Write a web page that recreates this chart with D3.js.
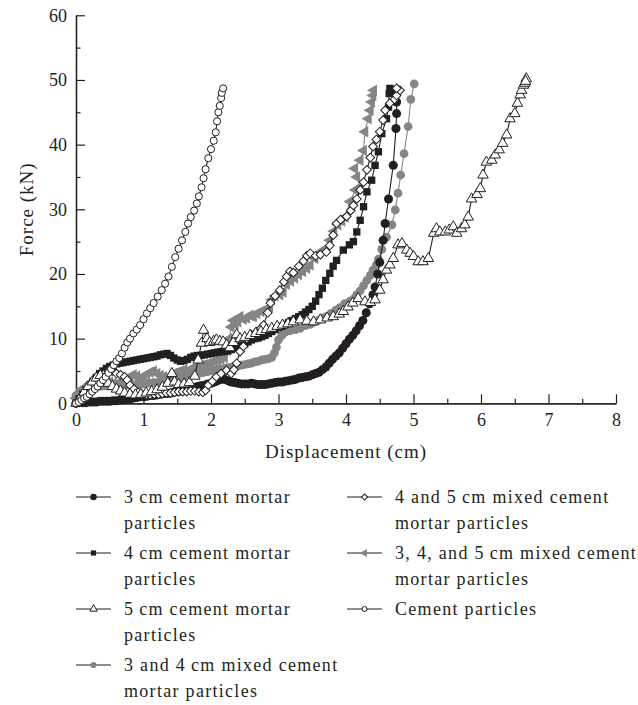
<!DOCTYPE html>
<html>
<head>
<meta charset="utf-8">
<script src="https://cdn.jsdelivr.net/npm/d3@7"></script>
<style>
  html, body { margin: 0; padding: 0; background: #fff; }
  svg { display: block; font-family: "Liberation Serif", "Times New Roman", serif; }
</style>
</head>
<body>
<svg id="chart" width="638" height="705"></svg>
<script>
// Axis ticks
const xTicks = [0, 1, 2, 3, 4, 5, 6, 7, 8];
const xMinorTicks = [0.5, 1.5, 2.5, 3.5, 4.5, 5.5, 6.5, 7.5];
const yTicks = [0, 10, 20, 30, 40, 50, 60];
const yMinorTicks = [5, 15, 25, 35, 45, 55];

// [displacement (cm), force (kN)]
const mortar3cm = [
  [0.00,0.0],[0.05,0.1],[0.10,0.1],[0.15,0.1],[0.20,0.2],[0.25,0.2],[0.30,0.2],[0.35,0.3],[0.40,0.3],[0.45,0.3],
  [0.50,0.3],[0.55,0.4],[0.60,0.4],[0.65,0.5],[0.70,0.6],[0.75,0.6],[0.80,0.7],[0.85,0.8],[0.90,0.9],[0.95,1.0],
  [1.00,1.0],[1.05,1.1],[1.10,1.2],[1.15,1.2],[1.20,1.3],[1.25,1.4],[1.30,1.5],[1.35,1.5],[1.40,1.6],[1.45,1.7],
  [1.50,1.8],[1.55,1.9],[1.60,2.0],[1.65,2.2],[1.70,2.3],[1.75,2.4],[1.80,2.6],[1.85,2.7],[1.90,2.8],[1.95,3.0],
  [2.00,3.1],[2.05,3.3],[2.10,3.5],[2.15,3.7],[2.20,3.7],[2.25,3.5],[2.30,3.3],[2.35,3.2],[2.40,3.1],[2.45,3.0],
  [2.50,3.0],[2.55,3.0],[2.60,3.1],[2.65,3.0],[2.70,2.9],[2.75,2.9],[2.80,2.9],[2.85,3.0],[2.90,3.1],[2.95,3.2],
  [3.00,3.3],[3.05,3.3],[3.10,3.4],[3.15,3.5],[3.20,3.6],[3.25,3.7],[3.30,3.9],[3.35,4.0],[3.40,4.1],[3.45,4.2],
  [3.50,4.4],[3.55,4.6],[3.60,4.8],[3.65,5.2],[3.70,5.6],[3.75,6.2],[3.80,6.8],[3.85,7.3],[3.90,7.8],[3.95,8.5],
  [4.00,9.2],[4.05,9.9],[4.10,10.5],[4.15,11.2],[4.20,12.0],[4.25,12.8],[4.30,14.0],[4.35,15.4],[4.40,16.8],[4.43,18.0],
  [4.47,20.0],[4.50,21.8],[4.55,25.2],[4.58,27.8],[4.63,31.6],[4.70,36.8],[4.74,42.5],[4.75,44.8],[4.75,46.6],[4.74,48.2]
];

const mortar4cm = [
  [0.00,0.0],[0.05,0.7],[0.10,1.4],[0.15,2.1],[0.20,2.8],[0.25,3.4],[0.30,4.0],[0.35,4.6],[0.40,5.0],[0.45,5.4],
  [0.50,5.7],[0.55,5.9],[0.60,6.1],[0.65,6.2],[0.70,6.3],[0.75,6.4],[0.80,6.5],[0.85,6.6],[0.90,6.7],[0.95,6.8],
  [1.00,6.9],[1.05,7.0],[1.10,7.1],[1.15,7.2],[1.20,7.3],[1.25,7.5],[1.30,7.6],[1.35,7.7],[1.40,7.4],[1.45,7.0],
  [1.50,6.7],[1.55,6.5],[1.60,6.6],[1.65,6.8],[1.70,7.1],[1.75,7.3],[1.80,7.4],[1.85,7.4],[1.90,7.5],[1.95,7.6],
  [2.00,7.7],[2.05,7.8],[2.10,7.9],[2.15,8.0],[2.20,8.0],[2.25,8.1],[2.30,8.3],[2.35,8.5],[2.40,8.7],[2.45,8.9],
  [2.50,9.2],[2.55,9.5],[2.60,9.8],[2.65,10.0],[2.70,10.1],[2.75,10.3],[2.80,10.5],[2.85,10.8],[2.90,11.1],[2.95,11.4],
  [3.00,11.7],[3.05,11.9],[3.10,12.2],[3.15,12.5],[3.20,12.8],[3.25,13.1],[3.30,13.4],[3.35,13.7],[3.40,14.1],[3.45,14.5],
  [3.50,15.0],[3.55,15.8],[3.60,16.8],[3.65,17.8],[3.70,19.0],[3.76,20.1],[3.81,21.2],[3.86,22.1],[3.96,23.7],[4.05,24.5],
  [4.11,25.0],[4.16,26.5],[4.21,28.3],[4.26,30.4],[4.31,32.7],[4.38,34.5],[4.43,36.8],[4.48,38.9],[4.53,41.7],[4.60,44.0],
  [4.63,45.8],[4.64,47.9],[4.65,48.7]
];

const mortar5cm = [
  [0.00,0.0],[0.06,0.8],[0.12,1.7],[0.18,2.6],[0.24,3.3],[0.30,3.9],[0.36,4.3],[0.42,3.8],[0.48,3.1],[0.54,2.6],
  [0.60,2.2],[0.66,1.9],[0.72,1.6],[0.80,1.4],[0.88,1.3],[0.96,1.4],[1.04,1.6],[1.12,1.8],[1.20,2.1],[1.28,2.5],
  [1.36,3.1],[1.42,4.6],[1.46,3.3],[1.52,2.9],[1.60,3.0],[1.68,3.2],[1.76,4.2],[1.81,6.7],[1.86,9.3],[1.89,11.3],
  [1.94,10.0],[1.98,9.4],[2.04,9.6],[2.08,9.8],[2.13,9.6],[2.18,9.5],[2.23,9.0],[2.28,8.6],[2.33,9.4],[2.38,10.6],
  [2.43,10.0],[2.50,10.2],[2.58,10.5],[2.66,10.8],[2.74,11.1],[2.82,11.4],[2.90,11.6],[2.98,11.9],[3.06,12.1],[3.14,12.3],
  [3.22,12.6],[3.32,12.9],[3.42,12.7],[3.52,12.6],[3.62,12.9],[3.72,13.2],[3.81,13.4],[3.90,13.8],[3.96,14.2],[4.03,14.9],
  [4.10,15.5],[4.18,16.2],[4.28,15.7],[4.36,15.6],[4.43,16.0],[4.50,17.5],[4.55,19.1],[4.60,20.6],[4.65,21.4],[4.70,22.4],
  [4.77,24.5],[4.83,24.7],[4.90,23.7],[4.95,23.2],[5.00,22.7],[5.07,21.9],[5.14,21.9],[5.22,22.4],[5.30,26.3],[5.34,27.0],
  [5.39,26.5],[5.47,26.5],[5.53,26.8],[5.59,27.3],[5.64,26.3],[5.71,27.0],[5.76,27.6],[5.81,28.8],[5.86,31.6],[5.94,32.3],
  [5.99,33.2],[6.03,35.3],[6.08,37.3],[6.16,37.6],[6.21,38.4],[6.27,39.2],[6.32,40.2],[6.38,41.5],[6.43,44.0],[6.50,44.8],
  [6.54,46.4],[6.58,47.7],[6.60,48.4],[6.63,49.2],[6.65,49.5],[6.67,50.2],[6.66,49.8]
];

const mixed34 = [
  [0.00,1.2],[0.05,1.8],[0.10,2.1],[0.15,2.3],[0.20,2.4],[0.25,2.5],[0.30,2.6],[0.35,2.6],[0.40,2.7],[0.45,2.7],
  [0.50,2.7],[0.55,2.8],[0.60,2.8],[0.65,2.8],[0.70,2.8],[0.75,2.8],[0.80,2.8],[0.85,2.9],[0.90,2.9],[0.95,3.0],
  [1.00,3.0],[1.05,3.1],[1.10,3.1],[1.15,3.2],[1.20,3.2],[1.25,3.3],[1.30,3.3],[1.35,3.4],[1.40,3.6],[1.45,3.8],
  [1.50,3.9],[1.55,4.0],[1.60,4.1],[1.65,4.2],[1.70,4.4],[1.75,4.5],[1.80,4.6],[1.85,4.7],[1.90,4.8],[1.95,4.9],
  [2.00,5.0],[2.05,5.1],[2.10,5.2],[2.15,5.3],[2.20,5.4],[2.25,5.5],[2.30,5.6],[2.35,5.7],[2.40,5.8],[2.45,5.9],
  [2.50,6.0],[2.55,6.1],[2.60,6.2],[2.65,6.4],[2.70,6.5],[2.75,6.7],[2.80,6.8],[2.85,6.9],[2.90,7.1],[2.94,7.8],
  [2.97,8.7],[3.00,9.8],[3.05,10.5],[3.10,11.0],[3.17,11.2],[3.25,11.4],[3.32,11.6],[3.40,12.0],[3.47,12.2],[3.52,12.5],
  [3.60,12.9],[3.66,13.2],[3.71,13.4],[3.78,13.9],[3.85,14.4],[3.91,14.8],[3.98,15.4],[4.06,15.8],[4.12,16.2],[4.16,16.8],
  [4.21,17.4],[4.26,18.2],[4.31,19.0],[4.36,19.8],[4.40,20.6],[4.45,21.4],[4.48,22.3],[4.53,23.8],[4.60,25.7],[4.68,27.6],
  [4.73,29.9],[4.77,32.5],[4.81,35.3],[4.86,38.6],[4.92,42.8],[4.96,47.0],[5.01,49.4]
];

const mixed45 = [
  [0.00,0.0],[0.05,0.5],[0.10,1.1],[0.15,1.7],[0.20,2.3],[0.25,2.9],[0.30,3.4],[0.36,4.1],[0.42,4.6],[0.48,5.0],
  [0.54,5.0],[0.60,4.6],[0.66,4.4],[0.72,4.1],[0.76,3.6],[0.80,2.8],[0.86,2.2],[0.92,1.7],[0.98,1.4],[1.04,1.3],
  [1.10,1.3],[1.16,1.4],[1.22,1.4],[1.28,1.5],[1.34,1.6],[1.40,1.6],[1.46,1.7],[1.52,1.8],[1.58,1.8],[1.64,1.8],
  [1.70,1.9],[1.76,1.9],[1.82,1.8],[1.88,1.7],[1.92,2.0],[1.96,2.8],[2.02,3.4],[2.08,4.1],[2.15,4.6],[2.23,5.1],
  [2.30,4.6],[2.34,5.2],[2.38,6.2],[2.43,8.0],[2.48,8.8],[2.53,10.0],[2.60,10.6],[2.68,11.1],[2.74,11.6],[2.78,12.1],
  [2.84,14.0],[2.88,15.5],[2.95,16.6],[3.02,17.5],[3.08,18.8],[3.12,19.6],[3.17,20.4],[3.22,20.2],[3.30,21.2],[3.37,22.0],
  [3.42,22.8],[3.47,23.2],[3.55,22.8],[3.62,23.0],[3.71,23.4],[3.76,24.4],[3.81,26.0],[3.86,27.8],[3.92,28.4],[4.01,28.9],
  [4.07,29.8],[4.11,30.6],[4.16,31.6],[4.21,33.0],[4.26,34.2],[4.31,36.1],[4.36,38.0],[4.40,39.7],[4.45,40.8],[4.50,42.0],
  [4.55,43.8],[4.58,45.3],[4.65,46.4],[4.72,47.0],[4.75,47.6],[4.80,48.4],[4.75,48.7]
];

const mixed345 = [
  [0.00,0.8],[0.05,1.6],[0.10,2.2],[0.15,2.6],[0.20,3.0],[0.25,3.3],[0.30,3.5],[0.35,3.7],[0.40,3.8],[0.45,3.6],
  [0.50,3.3],[0.55,3.1],[0.60,3.0],[0.65,3.2],[0.70,3.5],[0.75,3.8],[0.80,4.1],[0.85,4.4],[0.90,4.2],[0.95,3.9],
  [1.00,4.1],[1.05,4.5],[1.10,4.8],[1.15,5.0],[1.20,4.6],[1.25,4.3],[1.30,4.1],[1.35,4.0],[1.40,4.2],[1.45,4.6],
  [1.50,4.8],[1.55,5.0],[1.60,5.2],[1.65,5.0],[1.70,5.3],[1.75,5.5],[1.80,5.7],[1.85,5.8],[1.90,6.0],[1.95,6.1],
  [2.00,6.3],[2.05,6.5],[2.10,6.6],[2.15,6.8],[2.20,7.1],[2.24,8.2],[2.27,10.0],[2.30,11.8],[2.33,12.8],[2.36,12.2],
  [2.40,12.6],[2.43,13.4],[2.48,13.0],[2.53,13.2],[2.58,13.6],[2.63,13.4],[2.68,13.9],[2.74,14.2],[2.80,14.4],[2.87,14.9],
  [2.90,16.0],[2.95,16.6],[3.02,16.8],[3.07,17.2],[3.12,18.4],[3.18,18.9],[3.24,19.4],[3.30,19.9],[3.36,20.4],[3.42,20.9],
  [3.47,21.4],[3.54,22.4],[3.61,23.3],[3.68,23.8],[3.76,25.2],[3.82,26.6],[3.88,27.6],[3.94,28.2],[3.99,28.8],[4.06,31.2],
  [4.14,33.0],[4.21,33.4],[4.16,35.0],[4.13,36.3],[4.21,37.6],[4.26,39.1],[4.28,42.0],[4.33,44.0],[4.36,45.3],[4.38,46.6],
  [4.40,47.6],[4.41,48.4]
];

const cementOnly = [
  [0.00,0.0],[0.04,0.2],[0.08,0.5],[0.12,0.8],[0.16,1.0],[0.20,1.4],[0.24,1.8],[0.28,2.2],[0.32,2.6],[0.36,3.1],
  [0.40,3.6],[0.44,4.1],[0.48,4.7],[0.52,5.3],[0.56,5.9],[0.60,6.5],[0.64,7.0],[0.68,7.7],[0.72,8.6],[0.76,9.4],
  [0.80,10.0],[0.85,10.8],[0.90,11.4],[0.95,12.1],[1.00,13.0],[1.05,13.9],[1.10,14.7],[1.15,15.5],[1.21,16.5],[1.27,17.5],
  [1.32,18.5],[1.37,19.6],[1.42,21.1],[1.47,22.6],[1.52,23.9],[1.57,25.2],[1.62,26.5],[1.66,27.8],[1.70,28.8],[1.75,29.8],
  [1.79,30.9],[1.82,32.0],[1.86,33.4],[1.89,34.8],[1.92,36.2],[1.96,37.9],[2.00,39.3],[2.04,40.6],[2.07,41.9],[2.09,43.6],
  [2.11,45.0],[2.13,46.0],[2.15,47.2],[2.16,48.0],[2.18,48.7]
];

// Legend labels (each entry may wrap onto two lines)
const labels3cm = ["3\u2009cm cement mortar", "particles"];
const labels4cm = ["4\u2009cm cement mortar", "particles"];
const labels5cm = ["5\u2009cm cement mortar", "particles"];
const labels34 = ["3 and 4\u2009cm mixed cement", "mortar particles"];
const labels45 = ["4 and 5\u2009cm mixed cement", "mortar particles"];
const labels345 = ["3, 4, and 5\u2009cm mixed cement", "mortar particles"];
const labelsCement = ["Cement particles"];

const INK = "#231f20";
const GREY = "#858585";

const svg = d3.select("#chart");
const x = d3.scaleLinear().domain([0, 8]).range([76, 616]);
const y = d3.scaleLinear().domain([0, 60]).range([403.3, 15.3]);

// Marker definitions
const circle = { type: d3.symbolCircle, rot: 0 };
const square = { type: d3.symbolSquare, rot: 0 };
const triangle = { type: d3.symbolTriangle, rot: 0 };
const diamond = { type: d3.symbolSquare, rot: 45 };
const leftTri = { type: d3.symbolTriangle, rot: -90 };

const series = [
  { data: mixed34, labels: labels34, mark: circle, size: 60, fill: GREY, stroke: "none", line: GREY },
  { data: mixed345, labels: labels345, mark: leftTri, size: 58, fill: GREY, stroke: "none", line: GREY },
  { data: mortar3cm, labels: labels3cm, mark: circle, size: 64, fill: INK, stroke: "none", line: INK },
  { data: mortar4cm, labels: labels4cm, mark: square, size: 54, fill: INK, stroke: "none", line: INK },
  { data: mixed45, labels: labels45, mark: diamond, size: 38, fill: "#fff", stroke: INK, line: INK },
  { data: mortar5cm, labels: labels5cm, mark: triangle, size: 48, fill: "#fff", stroke: INK, line: INK },
  { data: cementOnly, labels: labelsCement, mark: circle, size: 40, fill: "#fff", stroke: INK, line: INK }
];

// Axes: ticks point into the plot
function styleAxis(g) {
  g.selectAll(".domain").attr("stroke", INK).attr("stroke-width", 1.3);
  g.selectAll(".tick line").attr("stroke", INK).attr("stroke-width", 1.2);
  g.selectAll(".tick text").attr("fill", INK).attr("font-size", 18)
    .attr("font-family", "Liberation Serif, serif");
}

svg.append("g").attr("transform", `translate(0,${y(0)})`)
  .call(d3.axisBottom(x).tickValues(xMinorTicks).tickSize(-4.5).tickSizeOuter(0).tickFormat(""))
  .call(styleAxis);
svg.append("g").attr("transform", `translate(0,${y(0)})`)
  .call(d3.axisBottom(x).tickValues(xTicks).tickSize(-9).tickSizeOuter(0).tickPadding(10).tickFormat(d3.format("d")))
  .call(styleAxis);
svg.append("g").attr("transform", `translate(${x(0)},0)`)
  .call(d3.axisLeft(y).tickValues(yMinorTicks).tickSize(-4.5).tickSizeOuter(0).tickFormat(""))
  .call(styleAxis);
svg.append("g").attr("transform", `translate(${x(0)},0)`)
  .call(d3.axisLeft(y).tickValues(yTicks).tickSize(-9).tickSizeOuter(0).tickPadding(9).tickFormat(d3.format("d")))
  .call(styleAxis);

// Axis titles
svg.append("text")
  .attr("x", (x(0) + x(8)) / 2).attr("y", 458)
  .attr("text-anchor", "middle").attr("font-size", 19).attr("fill", INK)
  .attr("letter-spacing", 1)
  .text("Displacement (cm)");
svg.append("text")
  .attr("transform", `translate(33,${(y(0) + y(60)) / 2}) rotate(-90)`)
  .attr("text-anchor", "middle").attr("font-size", 19).attr("fill", INK)
  .attr("letter-spacing", 1)
  .text("Force (kN)");

// Curves and markers
const line = d3.line().x(d => x(d[0])).y(d => y(d[1]));
const plot = svg.append("g");
series.forEach(s => {
  const g = plot.append("g");
  g.append("path").attr("d", line(s.data))
    .attr("fill", "none").attr("stroke", s.line).attr("stroke-width", 1.1);
  const sym = d3.symbol().type(s.mark.type).size(s.size)();
  g.selectAll("path.pt").data(s.data).join("path").attr("class", "pt")
    .attr("d", sym)
    .attr("transform", d => `translate(${x(d[0])},${y(d[1])}) rotate(${s.mark.rot})`)
    .attr("fill", s.fill).attr("stroke", s.stroke).attr("stroke-width", 1);
});

// Legend: two columns
const legendOrder = [
  { s: series[2], col: 0, row: 0 },
  { s: series[3], col: 0, row: 1 },
  { s: series[5], col: 0, row: 2 },
  { s: series[0], col: 0, row: 3 },
  { s: series[4], col: 1, row: 0 },
  { s: series[1], col: 1, row: 1 },
  { s: series[6], col: 1, row: 2 }
];
const colX = [76, 347];
const legend = svg.append("g");
legendOrder.forEach(({ s, col, row }) => {
  const x0 = colX[col];
  const yc = 497 + row * 56;
  const g = legend.append("g");
  g.append("line").attr("x1", x0).attr("x2", x0 + 35).attr("y1", yc).attr("y2", yc)
    .attr("stroke", INK).attr("stroke-width", 1.2);
  g.append("path")
    .attr("d", d3.symbol().type(s.mark.type).size(s.size * 0.5)())
    .attr("transform", `translate(${x0 + 17.5},${yc}) rotate(${s.mark.rot})`)
    .attr("fill", s.fill).attr("stroke", s.stroke).attr("stroke-width", 1);
  s.labels.forEach((t, i) => {
    g.append("text").attr("x", x0 + 48).attr("y", yc + i * 26)
      .attr("dy", "0.33em").attr("font-size", 18).attr("fill", INK)
      .attr("letter-spacing", 1.3)
      .text(t);
  });
});
</script>
</body>
</html>
